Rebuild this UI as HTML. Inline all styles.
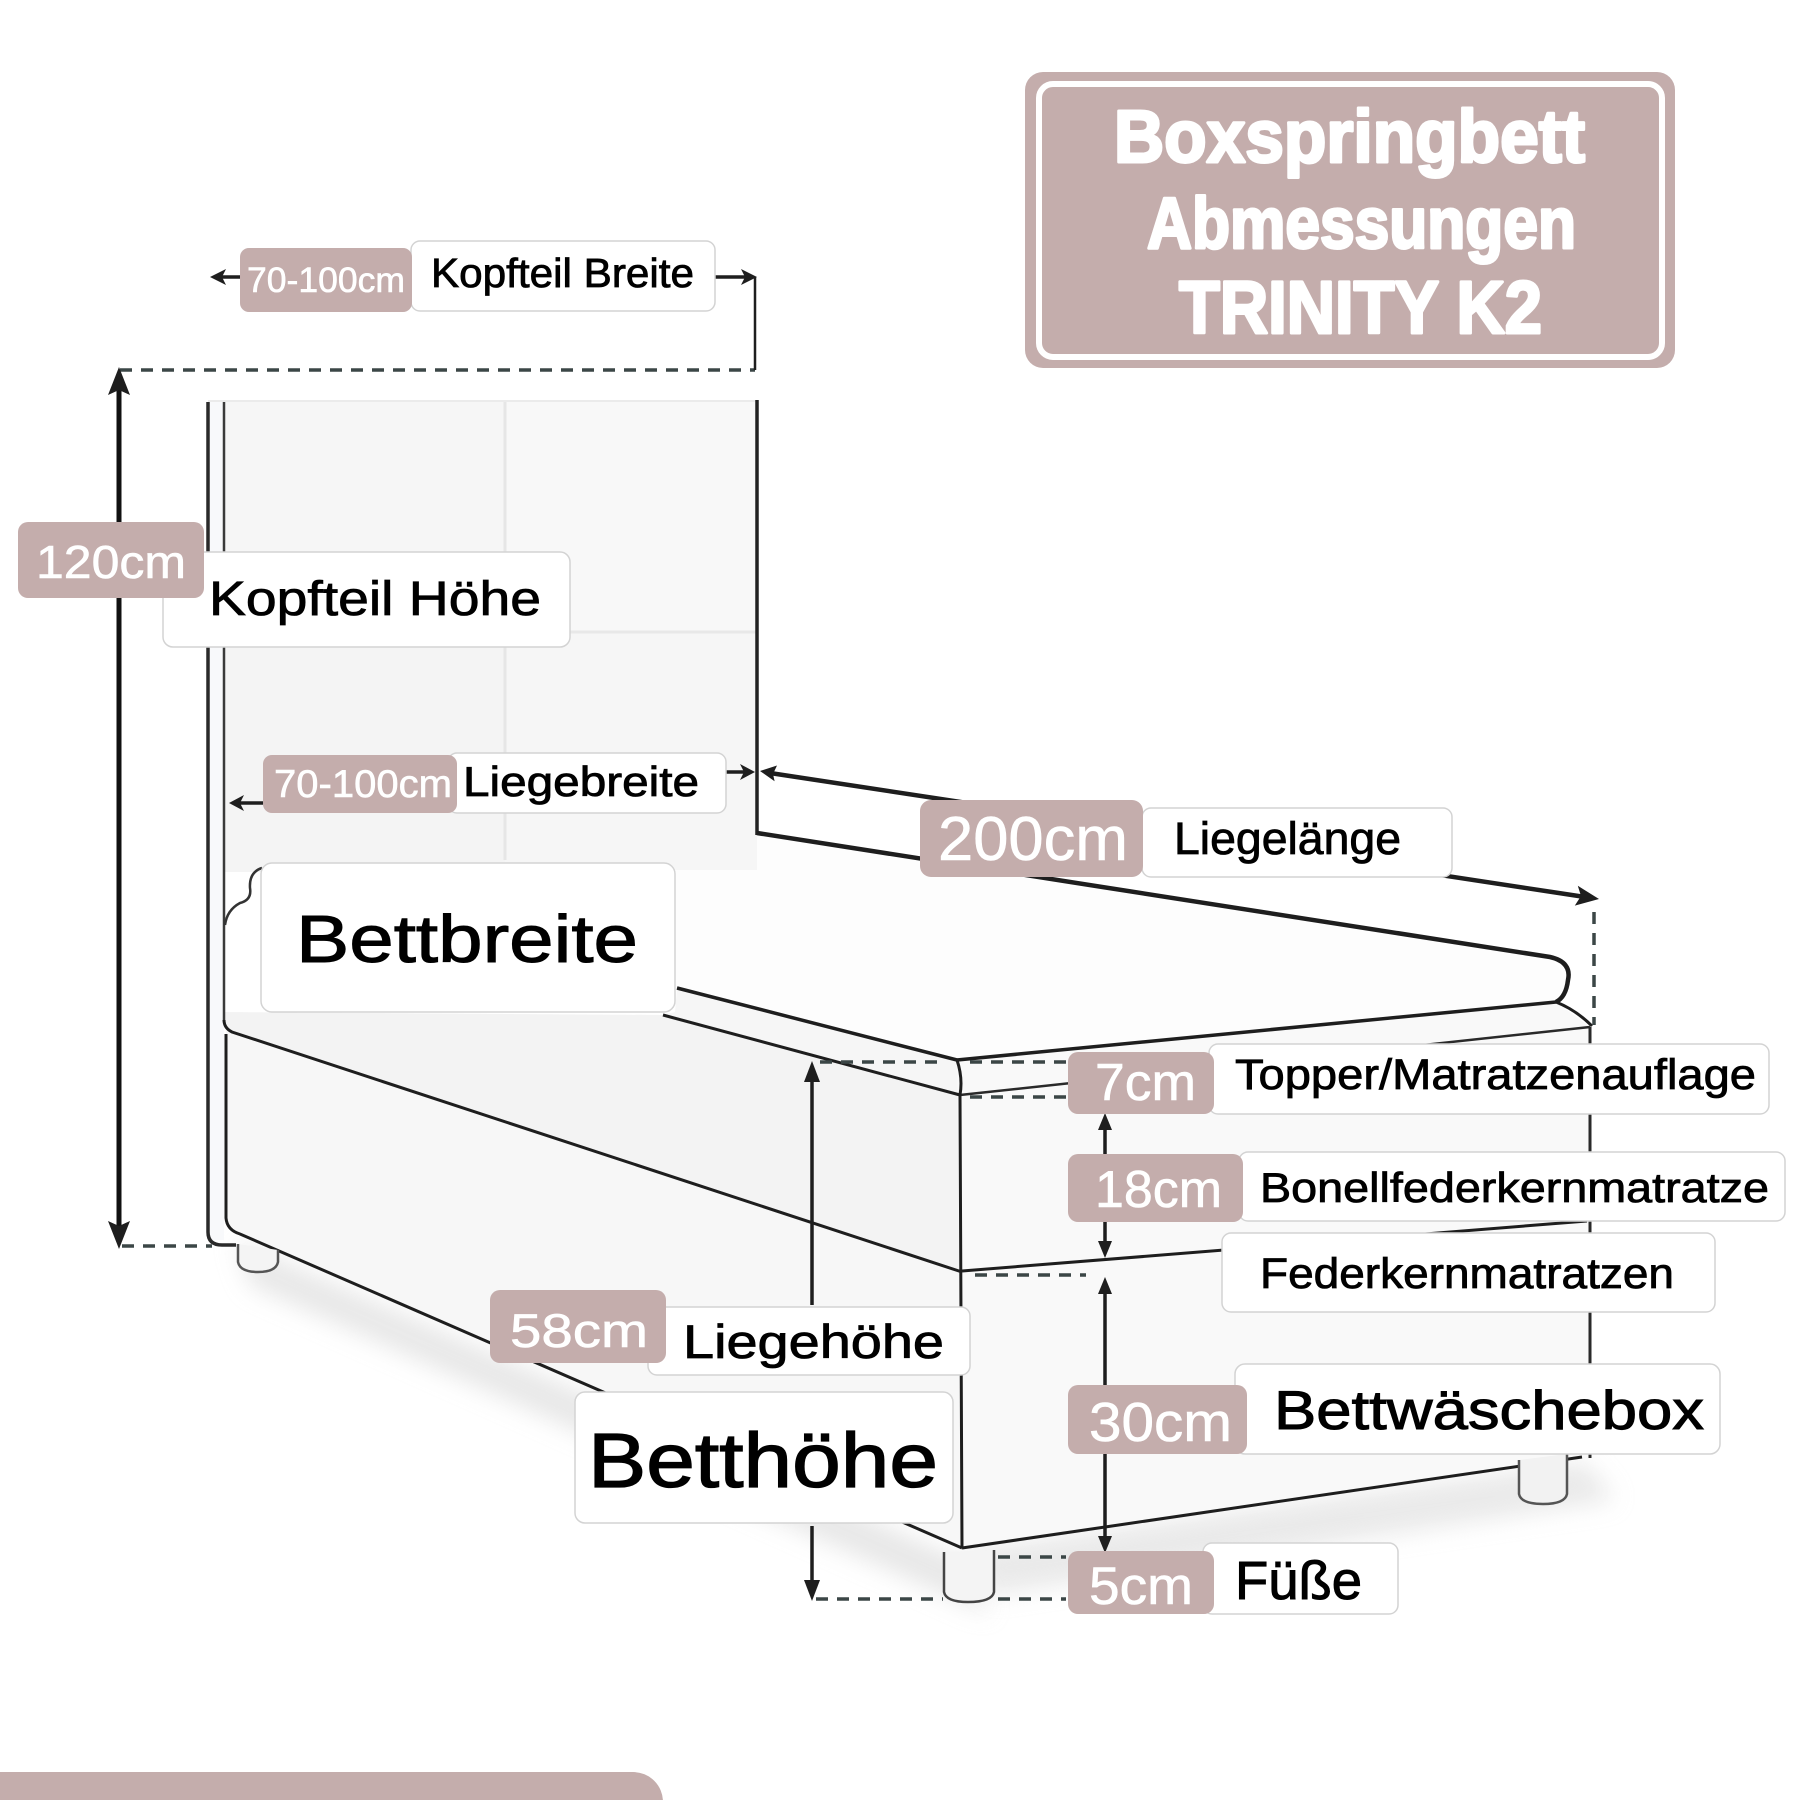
<!DOCTYPE html>
<html><head><meta charset="utf-8"><style>
html,body{margin:0;padding:0;background:#fff;width:1800px;height:1800px;overflow:hidden;}
svg{display:block;}
text{font-family:"Liberation Sans","DejaVu Sans",sans-serif;}
</style></head><body>
<svg xmlns="http://www.w3.org/2000/svg" width="1800" height="1800" viewBox="0 0 1800 1800">
<defs>
<filter id="blur" x="-30%" y="-30%" width="160%" height="160%"><feGaussianBlur stdDeviation="12"/></filter>
</defs>
<rect width="1800" height="1800" fill="#fff"/>

<!-- shadows -->
<polygon points="235,1240 962,1560 990,1615 250,1285" fill="#d4d4d4" opacity="0.55" filter="url(#blur)"/>
<polygon points="962,1550 1585,1462 1615,1500 990,1595" fill="#d4d4d4" opacity="0.5" filter="url(#blur)"/>

<!-- headboard -->
<rect x="224" y="400" width="281" height="232" fill="#f6f6f6"/>
<rect x="505" y="400" width="252" height="232" fill="#f8f8f8"/>
<rect x="224" y="632" width="281" height="240" fill="#f4f4f4"/>
<rect x="505" y="632" width="252" height="240" fill="#f6f6f6"/>
<rect x="208" y="400" width="16" height="840" fill="#f8f9fb"/>
<line x1="505" y1="402" x2="505" y2="860" stroke="#e6e6e6" stroke-width="3"/>
<line x1="226" y1="632" x2="756" y2="632" stroke="#e8e8e8" stroke-width="3"/>
<line x1="208" y1="401" x2="757" y2="401" stroke="#ebebeb" stroke-width="2"/>

<!-- bed surfaces -->
<polygon points="757,833 1550,957 1568,980 1556,1002 957,1060 677,988 262,870 757,870" fill="#fdfdfd"/>
<polygon points="677,988 957,1060 960,1095 663,1015 675,1012" fill="#f6f6f6"/>
<polygon points="663,1015 960,1095 962,1271 226,1030 224,1012" fill="#f3f3f3"/>
<polygon points="226,1030 962,1272 962,1548 228,1228" fill="#f7f7f7"/>
<polygon points="957,1060 1556,1002 1590,1027 1590,1458 962,1548" fill="#f9f9f9"/>

<!-- headboard lines -->
<path d="M208 402 L208 1232 Q208 1245 222 1245 L236 1245" fill="none" stroke="#2a2a2a" stroke-width="3.5"/>
<line x1="224" y1="402" x2="224" y2="1020" stroke="#3a3a3a" stroke-width="2.5"/>
<line x1="757" y1="400" x2="757" y2="835" stroke="#222" stroke-width="3.5"/>

<!-- topper corner near headboard -->
<path d="M262 868 Q249 872 250 888 Q252 900 240 903 Q227 910 225 925" fill="none" stroke="#333" stroke-width="2.5"/>

<!-- mattress / topper lines -->
<path d="M757 833 L1550 957 Q1572 962 1568 980 Q1566 997 1556 1002" fill="none" stroke="#1e1e1e" stroke-width="4.5"/>
<line x1="1556" y1="1002" x2="957" y2="1060" stroke="#1e1e1e" stroke-width="3.5"/>
<line x1="677" y1="988" x2="957" y2="1060" stroke="#1e1e1e" stroke-width="3.5"/>
<line x1="663" y1="1015" x2="960" y2="1095" stroke="#1e1e1e" stroke-width="3"/>
<line x1="960" y1="1095" x2="1590" y2="1027" stroke="#2a2a2a" stroke-width="2.5"/>
<path d="M1556 1002 Q1576 1010 1592 1026" fill="none" stroke="#1e1e1e" stroke-width="3"/>
<path d="M957 1060 Q963 1078 960 1095 L962 1548" fill="none" stroke="#1e1e1e" stroke-width="3"/>
<line x1="1590" y1="1027" x2="1590" y2="1458" stroke="#2a2a2a" stroke-width="3"/>
<line x1="962" y1="1271" x2="1587" y2="1221" stroke="#1e1e1e" stroke-width="3"/>
<line x1="962" y1="1548" x2="1582" y2="1457" stroke="#1e1e1e" stroke-width="3"/>

<!-- box spring long side -->
<path d="M224 1020 Q224 1028 232 1032 L962 1272" fill="none" stroke="#1e1e1e" stroke-width="3"/>
<path d="M226 1034 L226 1218 Q227 1230 240 1234 L962 1548" fill="none" stroke="#1e1e1e" stroke-width="3"/>

<!-- feet -->
<path d="M238 1244 L238 1262 Q240 1272 258 1272 Q276 1272 278 1262 L278 1250" fill="#f4f4f4" stroke="#555" stroke-width="2.5"/>
<path d="M944 1552 L944 1592 Q946 1602 968 1602 Q992 1602 994 1592 L994 1550" fill="#f4f4f4" stroke="#444" stroke-width="2.5"/>
<path d="M1519 1460 L1519 1494 Q1521 1504 1543 1504 Q1565 1504 1567 1494 L1567 1454" fill="#f2f2f2" stroke="#555" stroke-width="2.5"/>

<!-- dashed guides -->
<g stroke="#3b4646" stroke-width="3.5" stroke-dasharray="12 9" fill="none">
<line x1="120" y1="370" x2="755" y2="370"/>
<line x1="122" y1="1246" x2="212" y2="1246"/>
<line x1="820" y1="1062" x2="945" y2="1062"/>
<line x1="970" y1="1062" x2="1066" y2="1062"/>
<line x1="970" y1="1097" x2="1066" y2="1097"/>
<line x1="975" y1="1275" x2="1086" y2="1275"/>
<line x1="998" y1="1557" x2="1066" y2="1557"/>
<line x1="816" y1="1599" x2="943" y2="1599"/>
<line x1="998" y1="1599" x2="1066" y2="1599"/>
<line x1="1594" y1="912" x2="1594" y2="1025"/>
</g>

<!-- Kopfteil Breite arrows -->
<g fill="#1e1e1e" stroke="none">
<line x1="240" y1="277" x2="220" y2="277" stroke="#1e1e1e" stroke-width="3.5"/>
<polygon points="210,277 226,269 222,277 226,285"/>
<line x1="715" y1="277" x2="746" y2="277" stroke="#1e1e1e" stroke-width="3.5"/>
<polygon points="757,277 741,269 745,277 741,285"/>
<line x1="755" y1="277" x2="755" y2="370" stroke="#1e1e1e" stroke-width="2.5"/>

<!-- 120cm arrow -->
<line x1="119" y1="385" x2="119" y2="1232" stroke="#111" stroke-width="5"/>
<polygon points="119,367 108,395 119,390 130,395"/>
<polygon points="119,1249 108,1221 119,1226 130,1221"/>

<!-- Liegebreite arrows -->
<line x1="263" y1="803" x2="238" y2="803" stroke="#1e1e1e" stroke-width="3.5"/>
<polygon points="229,803 244,795 240,803 244,811"/>
<line x1="726" y1="772" x2="745" y2="772" stroke="#1e1e1e" stroke-width="3.5"/>
<polygon points="755,772 740,764 744,772 740,780"/>

<!-- 200cm line -->
<line x1="770" y1="773" x2="1585" y2="897" stroke="#1e1e1e" stroke-width="4.5"/>
<polygon points="760,771 777,765.5 773,774 774.6,781.3"/>
<polygon points="1599,899 1577.8,885.8 1581,896 1574.8,905.6"/>

<!-- Liegehoehe arrow -->
<line x1="812" y1="1078" x2="812" y2="1305" stroke="#1e1e1e" stroke-width="3.5"/>
<polygon points="812,1061 804,1082 820,1082"/>
<line x1="812" y1="1526" x2="812" y2="1585" stroke="#1e1e1e" stroke-width="3.5"/>
<polygon points="812,1601 804,1580 820,1580"/>

<!-- right arrows -->
<line x1="1105" y1="1126" x2="1105" y2="1245" stroke="#1e1e1e" stroke-width="3.5"/>
<polygon points="1105,1113 1098,1130 1112,1130"/>
<polygon points="1105,1258 1098,1241 1112,1241"/>
<line x1="1105" y1="1290" x2="1105" y2="1540" stroke="#1e1e1e" stroke-width="3.5"/>
<polygon points="1105,1277 1098,1294 1112,1294"/>
<polygon points="1105,1553 1098,1536 1112,1536"/>
</g>

<!-- white label boxes -->
<g fill="#fff" stroke="#d3d3d3" stroke-width="1.5">
<rect x="411" y="241" width="304" height="70" rx="9"/>
<rect x="163" y="552" width="407" height="95" rx="10"/>
<rect x="448" y="753" width="278" height="60" rx="9"/>
<rect x="1142" y="808" width="310" height="69" rx="9"/>
<rect x="261" y="863" width="414" height="149" rx="11"/>
<rect x="1209" y="1044" width="560" height="70" rx="9"/>
<rect x="1239" y="1152" width="546" height="69" rx="9"/>
<rect x="1222" y="1233" width="493" height="79" rx="9"/>
<rect x="1235" y="1364" width="485" height="90" rx="10"/>
<rect x="1203" y="1543" width="195" height="71" rx="9"/>
<rect x="648" y="1307" width="322" height="68" rx="9"/>
<rect x="575" y="1392" width="378" height="131" rx="10"/>
</g>

<!-- pink label boxes -->
<g fill="#c4adac">
<rect x="240" y="248" width="172" height="64" rx="9"/>
<rect x="18" y="522" width="186" height="76" rx="10"/>
<rect x="263" y="755" width="194" height="58" rx="9"/>
<rect x="920" y="800" width="223" height="77" rx="11"/>
<rect x="1068" y="1052" width="146" height="62" rx="10"/>
<rect x="1068" y="1154" width="175" height="68" rx="10"/>
<rect x="1068" y="1385" width="179" height="69" rx="10"/>
<rect x="1068" y="1551" width="146" height="63" rx="10"/>
<rect x="490" y="1290" width="176" height="73" rx="10"/>
</g>

<!-- title box -->
<rect x="1025" y="72" width="650" height="296" rx="18" fill="#c4adac"/>
<rect x="1039" y="84" width="623" height="273" rx="14" fill="none" stroke="#fff" stroke-width="6"/>
<g fill="#fff" stroke="#fff" stroke-width="3" stroke-linejoin="round" font-weight="bold">
<text x="1114" y="162" font-size="74" textLength="471" lengthAdjust="spacingAndGlyphs">Boxspringbett</text>
<text x="1147" y="248" font-size="72" textLength="429" lengthAdjust="spacingAndGlyphs">Abmessungen</text>
<text x="1179" y="333" font-size="74" textLength="363" lengthAdjust="spacingAndGlyphs">TRINITY K2</text>
</g>

<!-- pink label texts -->
<g fill="#fff" stroke="#fff" stroke-width="0.6">
<text x="247" y="292" font-size="35" textLength="158" lengthAdjust="spacingAndGlyphs">70-100cm</text>
<text x="36" y="578" font-size="46" textLength="150" lengthAdjust="spacingAndGlyphs">120cm</text>
<text x="274" y="797" font-size="39" textLength="178" lengthAdjust="spacingAndGlyphs">70-100cm</text>
<text x="938" y="860" font-size="62" textLength="190" lengthAdjust="spacingAndGlyphs">200cm</text>
<text x="1095" y="1100" font-size="52" textLength="101" lengthAdjust="spacingAndGlyphs">7cm</text>
<text x="1095" y="1207" font-size="52" textLength="127" lengthAdjust="spacingAndGlyphs">18cm</text>
<text x="1089" y="1441" font-size="55" textLength="143" lengthAdjust="spacingAndGlyphs">30cm</text>
<text x="1089" y="1604" font-size="53" textLength="104" lengthAdjust="spacingAndGlyphs">5cm</text>
<text x="510" y="1347" font-size="47" textLength="138" lengthAdjust="spacingAndGlyphs">58cm</text>
</g>

<!-- black label texts -->
<g fill="#000" stroke="#000" stroke-width="0.8">
<text x="431" y="287" font-size="41" textLength="263" lengthAdjust="spacingAndGlyphs">Kopfteil Breite</text>
<text x="209" y="615" font-size="48" textLength="332" lengthAdjust="spacingAndGlyphs">Kopfteil Höhe</text>
<text x="463" y="796" font-size="42" textLength="236" lengthAdjust="spacingAndGlyphs">Liegebreite</text>
<text x="1174" y="854" font-size="45" textLength="227" lengthAdjust="spacingAndGlyphs">Liegelänge</text>
<text x="296" y="962" font-size="67" textLength="342" lengthAdjust="spacingAndGlyphs" stroke-width="1">Bettbreite</text>
<text x="1235" y="1089" font-size="43" textLength="521" lengthAdjust="spacingAndGlyphs">Topper/Matratzenauflage</text>
<text x="1260" y="1202" font-size="42" textLength="509" lengthAdjust="spacingAndGlyphs">Bonellfederkernmatratze</text>
<text x="1260" y="1288" font-size="43" textLength="414" lengthAdjust="spacingAndGlyphs">Federkernmatratzen</text>
<text x="1274" y="1429" font-size="55" textLength="430" lengthAdjust="spacingAndGlyphs" stroke-width="1">Bettwäschebox</text>
<text x="1235" y="1599" font-size="54" textLength="127" lengthAdjust="spacingAndGlyphs" stroke-width="1">Füße</text>
<text x="683" y="1358" font-size="47" textLength="261" lengthAdjust="spacingAndGlyphs">Liegehöhe</text>
<text x="588" y="1487" font-size="77" textLength="350" lengthAdjust="spacingAndGlyphs" stroke-width="1.3">Betthöhe</text>
</g>

<!-- bottom pink bar -->
<path d="M0 1772 H633 A30 30 0 0 1 663 1802 V1800 H0 Z" fill="#c4adac"/>
</svg>
</body></html>
